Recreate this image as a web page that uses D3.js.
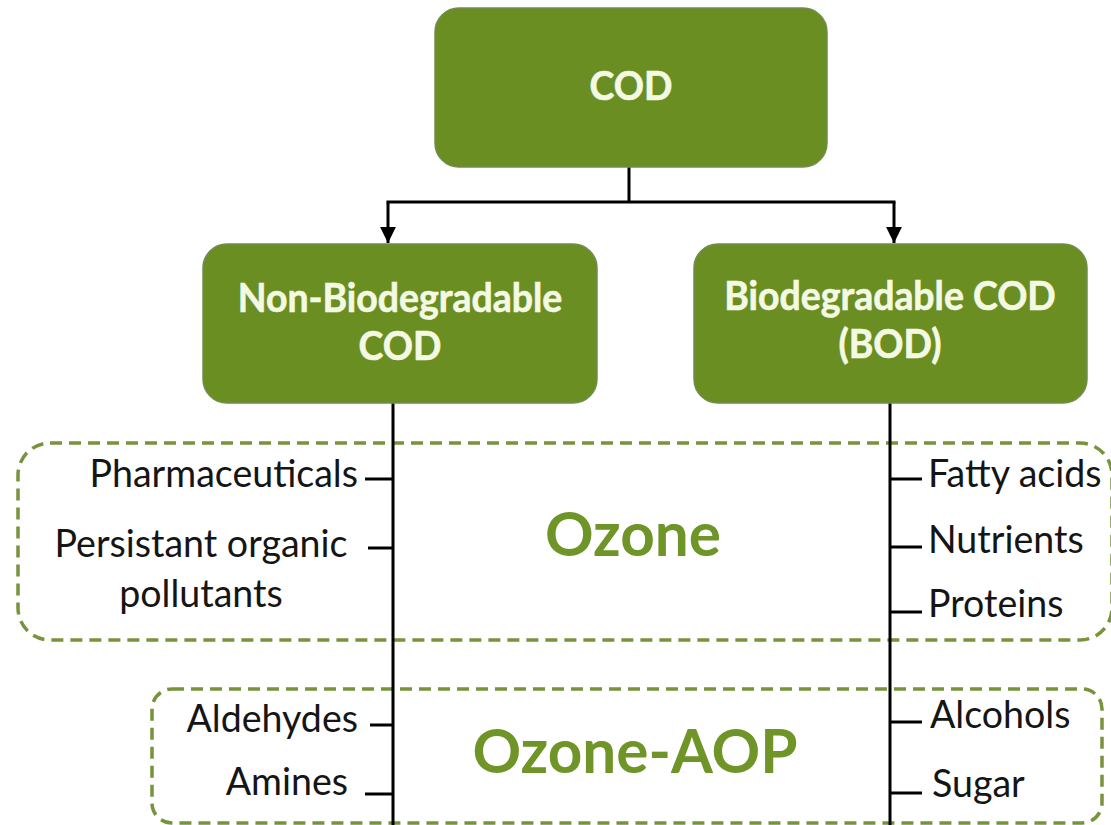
<!DOCTYPE html>
<html>
<head>
<meta charset="utf-8">
<script src="https://cdn.jsdelivr.net/npm/d3@7"></script>
<style>
  html, body { margin: 0; padding: 0; background: #ffffff; }
  svg { display: block; }
</style>
</head>
<body>
<svg id="chart" width="1111" height="825"></svg>
<script>
// ---------------- data ----------------
const rootLabel = ["COD"];
const branchLabels = [["Non-Biodegradable", "COD"], ["Biodegradable COD", "(BOD)"]];
const groupLabels = ["Ozone", "Ozone-AOP"];
const ozoneLeft = [["Pharmaceuticals"], ["Persistant organic", "pollutants"]];
const ozoneRight = ["Fatty acids", "Nutrients", "Proteins"];
const aopLeft = ["Aldehydes", "Amines"];
const aopRight = ["Alcohols", "Sugar"];

// ---------------- layout ----------------
const svg = d3.select("#chart");
const GREEN = "#6b8e23";
const DASH_GREEN = "#77933c";
const LABEL_GREEN = "#6f9428";
const FONT = "Lato, 'Open Sans', sans-serif";

const rootBox = {x: 435, y: 8, w: 392, h: 159};
const branchBoxes = [
  {x: 203, y: 244, w: 394, h: 159, cx: 400, arrowX: 388, lineX: 393},
  {x: 694, y: 244, w: 393, h: 159, cx: 890, arrowX: 894, lineX: 890}
];
const groupBoxes = [
  {x: 18, y: 443, w: 1094, h: 197, r: 32, cx: 633, base: 556},
  {x: 152, y: 689, w: 950, h: 134, r: 20, cx: 635, base: 773}
];
const yItem = d3.scaleOrdinal()
  .domain(["Pharmaceuticals", "Persistant organic", "Fatty acids", "Nutrients", "Proteins",
           "Aldehydes", "Amines", "Alcohols", "Sugar"])
  .range([479, 548, 479, 547, 612, 725, 794, 722, 793]);

function measure(text, weight, size) {
  const t = svg.append("text").attr("font-family", FONT).attr("font-weight", weight)
    .attr("font-size", size).text(text);
  const w = t.node().getComputedTextLength();
  t.remove();
  return w;
}
function fitSize(pairs, weight) {
  let sum = 0, tgt = 0;
  pairs.forEach(([t, w]) => { sum += measure(t, weight, 100); tgt += w; });
  return 100 * tgt / sum;
}

const boxFont = fitSize([["Non-Biodegradable", 333], ["Biodegradable COD", 332], ["COD", 74]], "bold");
const itemFont = fitSize([["Pharmaceuticals", 278], ["Persistant organic", 288], ["Fatty acids", 172],
                          ["Nutrients", 154], ["Aldehydes", 171], ["Amines", 122], ["Alcohols", 140]], "normal");
const groupFont = fitSize([["Ozone", 177], ["Ozone-AOP", 324]], "bold");
// slight vertical stretch to mimic the taller Calibri-like lettering
const boxK = 1.05, itemK = 1.05, groupK = 1.03;
const tf = (x, y, k) => `translate(${x},${y}) scale(1,${k})`;

// ---------------- dashed group boxes ----------------
svg.selectAll("rect.group").data(groupBoxes).join("rect")
  .attr("class", "group")
  .attr("x", d => d.x).attr("y", d => d.y).attr("width", d => d.w).attr("height", d => d.h)
  .attr("rx", d => d.r).attr("ry", d => d.r)
  .attr("fill", "none").attr("stroke", DASH_GREEN).attr("stroke-width", 3.5)
  .attr("stroke-dasharray", "12,7");

svg.selectAll("text.group").data(groupLabels).join("text")
  .attr("class", "group")
  .attr("transform", (d, i) => tf(groupBoxes[i].cx, groupBoxes[i].base, groupK))
  .attr("text-anchor", "middle").attr("font-family", FONT).attr("font-weight", "bold")
  .attr("font-size", groupFont).attr("fill", LABEL_GREEN).text(d => d);

// ---------------- connectors ----------------
const defs = svg.append("defs");
defs.append("marker").attr("id", "arrow").attr("viewBox", "0 0 10 10")
  .attr("refX", 10).attr("refY", 5).attr("markerWidth", 5.3).attr("markerHeight", 5.8)
  .attr("markerUnits", "strokeWidth").attr("orient", "auto")
  .append("path").attr("d", "M0,0 L10,5 L0,10 Z").attr("fill", "#000");

const g = svg.append("g").attr("stroke", "#000").attr("stroke-width", 3).attr("fill", "none");
const rootCx = rootBox.x + rootBox.w / 2 - 2;
const busY = 202;
g.append("line").attr("x1", rootCx).attr("x2", rootCx).attr("y1", rootBox.y + rootBox.h).attr("y2", busY);
g.append("line").attr("x1", branchBoxes[0].arrowX - 1.5).attr("x2", branchBoxes[1].arrowX + 1.5)
  .attr("y1", busY).attr("y2", busY);
g.selectAll("line.arrow").data(branchBoxes).join("line").attr("class", "arrow")
  .attr("x1", d => d.arrowX).attr("x2", d => d.arrowX).attr("y1", busY).attr("y2", d => d.y - 1)
  .attr("marker-end", "url(#arrow)");
g.selectAll("line.stem").data(branchBoxes).join("line").attr("class", "stem")
  .attr("x1", d => d.lineX).attr("x2", d => d.lineX).attr("y1", d => d.y + d.h).attr("y2", 825);

const leftItems = [...ozoneLeft.map(d => d[0]), ...aopLeft];
const rightItems = [...ozoneRight, ...aopRight];
const leftTickX = [365, 368, 370, 365];
g.selectAll("line.ltick").data(leftItems).join("line").attr("class", "ltick")
  .attr("x1", (d, i) => leftTickX[i]).attr("x2", branchBoxes[0].lineX)
  .attr("y1", d => yItem(d)).attr("y2", d => yItem(d));
g.selectAll("line.rtick").data(rightItems).join("line").attr("class", "rtick")
  .attr("x1", branchBoxes[1].lineX).attr("x2", 922)
  .attr("y1", d => yItem(d)).attr("y2", d => yItem(d));

// ---------------- green boxes ----------------
const boxes = [{...rootBox, lines: rootLabel, cx: 631, base: 100},
  {...branchBoxes[0], lines: branchLabels[0], base: 312},
  {...branchBoxes[1], lines: branchLabels[1], base: 310}];
svg.selectAll("rect.node").data(boxes).join("rect").attr("class", "node")
  .attr("x", d => d.x).attr("y", d => d.y).attr("width", d => d.w).attr("height", d => d.h)
  .attr("rx", 24).attr("ry", 24).attr("fill", GREEN)
  .attr("stroke", "#6f8d4c").attr("stroke-width", 1.5);
const nodeText = svg.selectAll("text.node").data(boxes).join("text").attr("class", "node")
  .attr("transform", d => tf(d.cx, d.base, boxK))
  .attr("text-anchor", "middle").attr("font-family", FONT).attr("font-weight", "bold")
  .attr("font-size", boxFont).attr("fill", "#f4f9e4")
  .attr("stroke", "#f4f9e4").attr("stroke-width", 0.6);
nodeText.selectAll("tspan").data(d => d.lines.map((l, i) => ({l, i}))).join("tspan")
  .attr("x", 0).attr("y", o => o.i * 48 / boxK).text(o => o.l);

// ---------------- item labels ----------------
const itemsG = svg.append("g").attr("font-family", FONT).attr("font-size", itemFont).attr("fill", "#151515");
const leftSingle = [
  {t: "Pharmaceuticals", x: 358, base: 487},
  {t: "Aldehydes", x: 358, base: 732},
  {t: "Amines", x: 348, base: 795}
];
itemsG.selectAll("text.ls").data(leftSingle).join("text").attr("class", "ls")
  .attr("transform", d => tf(d.x, d.base, itemK)).attr("text-anchor", "end").text(d => d.t);
const twoLine = itemsG.append("text").attr("text-anchor", "middle")
  .attr("transform", tf(201, 557, itemK));
twoLine.selectAll("tspan").data(ozoneLeft[1]).join("tspan")
  .attr("x", 0).attr("y", (d, i) => i * 50 / itemK).text(d => d);
const rightPos = {"Fatty acids": [928, 487], "Nutrients": [928, 553], "Proteins": [928, 617],
                  "Alcohols": [930, 728], "Sugar": [932, 797]};
itemsG.selectAll("text.rs").data(rightItems).join("text").attr("class", "rs")
  .attr("transform", d => tf(rightPos[d][0], rightPos[d][1], itemK)).text(d => d);
</script>
</body>
</html>
